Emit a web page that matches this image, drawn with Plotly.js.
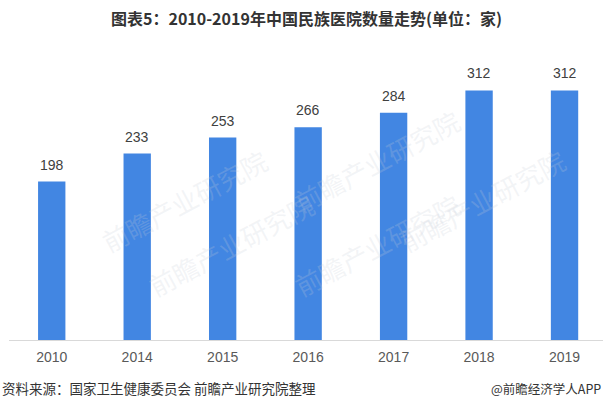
<!DOCTYPE html>
<html><head><meta charset="utf-8">
<script src="https://cdn.plot.ly/plotly-3.0.1.min.js"></script>
<style>html,body{margin:0;padding:0;background:#fff;}#chart{width:603px;height:413px;}</style>
</head><body><div id="chart"></div>
<script>
var years = ["2010","2014","2015","2016","2017","2018","2019"];
var hospitals = [198,233,253,266,284,312,312];
var titleText = "图表5：2010-2019年中国民族医院数量走势(单位：家)";
var sourceText = "资料来源：国家卫生健康委员会 前瞻产业研究院整理";
var brandText = "@前瞻经济学人APP";
var watermark = "前瞻产业研究院";

var font = "'Noto Sans CJK SC', 'Noto Sans', sans-serif";
var numFont = "'Liberation Sans', Arial, sans-serif";
var trace = {
  type: "bar", x: years, y: hospitals,
  marker: {color: "#4286e2"},
  hoverinfo: "none"
};
var wmPos = [[0.14,0.72],[0.62,0.86],[0.95,0.5],[0.22,0.12],[0.62,0.12]];
var annotations = [
  {xref:"paper", yref:"paper", x:0.5, y:1, yshift:42, text:"<b>"+titleText+"</b>", showarrow:false,
   font:{family:font, size:16, color:"#333333"}, xanchor:"center", yanchor:"middle"},
  {xref:"paper", yref:"paper", x:-0.0157, y:0, yshift:-48, text:sourceText, showarrow:false,
   font:{family:font, size:13.5, color:"#333333"}, xanchor:"left", yanchor:"middle"},
  {xref:"paper", yref:"paper", x:1, y:0, yshift:-48, text:brandText, showarrow:false,
   font:{family:font, size:12.5, color:"#333333"}, xanchor:"right", yanchor:"middle"}
];
wmPos.forEach(function(p){
  annotations.push({xref:"paper", yref:"paper", x:p[0], y:p[1], text:watermark, showarrow:false,
    textangle:-28, font:{family:font, size:26, color:"rgba(200,205,215,0.22)"}});
});
years.forEach(function(yr, i){
  annotations.push({xref:"x", yref:"y", x:i, y:hospitals[i], yshift:17, text:String(hospitals[i]),
    showarrow:false, yanchor:"middle", font:{family:numFont, size:14, color:"#404040"}});
});
var layout = {
  width: 603, height: 413,
  margin: {l: 9.3, r: 0, t: 60, b: 73},
  paper_bgcolor: "#ffffff", plot_bgcolor: "#ffffff",
  showlegend: false, bargap: 0.68,
  xaxis: {type:"category", range:[-0.5, 6.45], showline:true, linecolor:"#d9d9d9", linewidth:1,
    ticks:"", showgrid:false, zeroline:false, ticklabelstandoff:4,
    tickfont:{family:numFont, size:14, color:"#595959"}},
  yaxis: {range:[0,350], visible:false, showgrid:false, zeroline:false},
  annotations: annotations
};
Plotly.newPlot("chart", [trace], layout, {staticPlot:true, displayModeBar:false});
</script></body></html>
